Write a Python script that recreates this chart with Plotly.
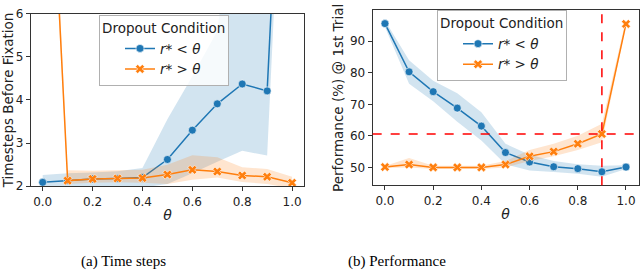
import plotly.graph_objects as go

theta = [0.0, 0.1, 0.2, 0.3, 0.4, 0.5, 0.6, 0.7, 0.8, 0.9, 1.0]
theta_ticks = [0.0, 0.2, 0.4, 0.6, 0.8, 1.0]
theta_ticklabels = ["0.0", "0.2", "0.4", "0.6", "0.8", "1.0"]

# (a) Time steps
ts_lt = [2.09, 2.13, 2.17, 2.18, 2.20, 2.62, 3.30, 3.91, 4.37, 4.21, 16.0]
ts_lt_lo = [1.95, 1.95, 1.95, 1.95, 1.97, 2.05, 2.30, 2.57, 2.82, 2.71, 15.0]
ts_lt_hi = [2.26, 2.30, 2.32, 2.35, 2.42, 3.55, 4.55, 5.60, 10.0, 12.0, 18.0]
ts_gt = [13.8, 2.13, 2.17, 2.18, 2.19, 2.27, 2.38, 2.34, 2.25, 2.22, 2.08]
ts_gt_lo = [13.0, 2.05, 2.08, 2.09, 2.08, 2.05, 2.15, 2.20, 2.10, 2.05, 1.95]
ts_gt_hi = [14.6, 2.37, 2.36, 2.37, 2.38, 2.50, 2.72, 2.67, 2.44, 2.40, 2.22]

# (b) Performance
pf_lt = [95.6, 80.3, 74.0, 68.8, 63.1, 54.7, 51.7, 50.2, 49.6, 48.6, 50.1]
pf_lt_lo = [94.5, 76.5, 71.0, 64.5, 58.5, 51.0, 49.0, 48.5, 48.0, 47.0, 49.5]
pf_lt_hi = [96.6, 84.0, 77.5, 73.5, 67.5, 57.5, 54.0, 52.0, 51.0, 50.5, 50.7]
pf_gt = [50.1, 50.9, 50.0, 50.0, 50.0, 50.9, 53.5, 55.0, 57.5, 60.6, 95.5]
pf_gt_lo = [49.8, 50.0, 49.5, 49.5, 49.5, 50.0, 52.0, 53.5, 55.5, 58.0, 95.0]
pf_gt_hi = [50.4, 53.0, 50.5, 50.5, 50.5, 52.0, 55.5, 57.5, 60.0, 63.8, 97.0]

ref_theta = 0.9
ref_perf = 60.6

BLUE = "#1f77b4"
ORANGE = "#ff7f0e"
BLUE_F = "rgba(31,119,180,0.2)"
ORANGE_F = "rgba(255,127,14,0.2)"

LT = "<i>r</i>* &lt; <i>θ</i>"
GT = "<i>r</i>* &gt; <i>θ</i>"

W, H = 640, 271

fig = go.Figure()


def add_series(xa, ya, y, lo, hi, color, fillc, symbol, msize, name, legend, show):
    fig.add_trace(go.Scatter(
        x=theta + theta[::-1], y=hi + lo[::-1], fill="toself", fillcolor=fillc,
        line=dict(width=0), mode="lines", hoverinfo="skip", showlegend=False,
        xaxis=xa, yaxis=ya))
    fig.add_trace(go.Scatter(
        x=theta, y=y, mode="lines+markers", name=name,
        line=dict(color=color, width=1.5),
        marker=dict(symbol=symbol, size=msize, color=color,
                    line=dict(color="white", width=0.6)),
        legend=legend, showlegend=show, xaxis=xa, yaxis=ya))


add_series("x", "y", ts_lt, ts_lt_lo, ts_lt_hi, BLUE, BLUE_F, "circle", 8, LT, "legend", True)
add_series("x", "y", ts_gt, ts_gt_lo, ts_gt_hi, ORANGE, ORANGE_F, "x", 8, GT, "legend", True)
add_series("x2", "y2", pf_lt, pf_lt_lo, pf_lt_hi, BLUE, BLUE_F, "circle", 8, LT, "legend2", True)
add_series("x2", "y2", pf_gt, pf_gt_lo, pf_gt_hi, ORANGE, ORANGE_F, "x", 8, GT, "legend2", True)

# reference lines
fig.add_shape(type="line", xref="x2", yref="y2 domain", x0=ref_theta, x1=ref_theta, y0=0, y1=1,
              line=dict(color="red", width=1.5, dash="dash"))
fig.add_shape(type="line", xref="x2 domain", yref="y2", x0=0, x1=1, y0=ref_perf, y1=ref_perf,
              line=dict(color="red", width=1.5, dash="dash"))

axis_common = dict(showline=True, linecolor="#333", linewidth=1, mirror=True,
                   ticks="outside", ticklen=4, tickcolor="#333", showgrid=False, zeroline=False,
                   tickfont=dict(family="DejaVu Sans", size=12, color="#222"))

legend_common = dict(xanchor="left", yanchor="top", bgcolor="rgba(255,255,255,0.8)",
                     bordercolor="#b0b0b0", borderwidth=1,
                     font=dict(size=13.5), tracegroupgap=0,
                     title=dict(text="Dropout Condition", font=dict(size=13.5)))

fig.update_layout(
    width=W, height=H, margin=dict(l=0, r=0, t=0, b=0),
    paper_bgcolor="white", plot_bgcolor="white",
    font=dict(family="DejaVu Sans", color="#222"),
    xaxis=dict(domain=[0.048, 0.4755], range=[-0.048, 1.049], tickvals=theta_ticks,
               ticktext=theta_ticklabels, anchor="y",
               title=dict(text="<i>θ</i>", font=dict(size=14), standoff=2), **axis_common),
    yaxis=dict(domain=[0.3026, 0.974], range=[2, 6], tickvals=[2, 3, 4, 5, 6], anchor="x",
               title=dict(text="Timesteps Before Fixation", font=dict(size=13.5), standoff=3),
               **axis_common),
    xaxis2=dict(domain=[0.5823, 0.9977], range=[-0.051, 1.052], tickvals=theta_ticks,
                ticktext=theta_ticklabels, anchor="y2",
                title=dict(text="<i>θ</i>", font=dict(size=14), standoff=2), **axis_common),
    yaxis2=dict(domain=[0.306, 0.987], range=[44.3, 99.8], tickvals=[50, 60, 70, 80, 90], anchor="x2",
                title=dict(text="Performance (%) @ 1st Trial", font=dict(size=13.5), standoff=3),
                **axis_common),
    legend=dict(x=99 / W, y=1 - 8 / H, indentation=20, **legend_common),
    legend2=dict(x=437 / W, y=1 - 3 / H, indentation=20, **legend_common),
    annotations=[
        dict(text="(a) Time steps", xref="paper", yref="paper", x=123.5 / W, y=1 - 268 / H,
             xanchor="center", yanchor="middle", showarrow=False,
             font=dict(family="Liberation Serif", size=15, color="black")),
        dict(text="(b) Performance", xref="paper", yref="paper", x=397 / W, y=1 - 268 / H,
             xanchor="center", yanchor="middle", showarrow=False,
             font=dict(family="Liberation Serif", size=15, color="black")),
    ],
)

fig.write_html("out.html", config={"displayModeBar": False},
               post_script="document.body.style.margin='0';document.body.style.overflow='hidden';")
